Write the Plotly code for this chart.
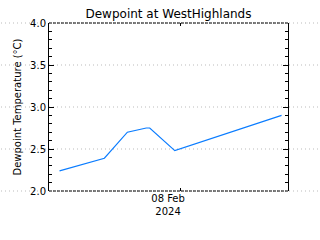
import plotly.graph_objects as go

# Data
times = ["2024-02-07 08:22", "2024-02-07 14:11", "2024-02-07 17:10",
         "2024-02-07 19:37", "2024-02-07 20:04", "2024-02-07 23:19",
         "2024-02-08 13:10"]
dewpoint = [2.24, 2.39, 2.70, 2.75, 2.75, 2.48, 2.90]

x_range = ["2024-02-07 07:00", "2024-02-08 14:00"]
y_min, y_max = 2.0, 4.0
y_ticks = [2.0, 2.5, 3.0, 3.5, 4.0]
x_tickvals = ["2024-02-08 00:00"]
x_ticktext = ["08 Feb<br>2024"]

title_text = "Dewpoint at WestHighlands"
y_title = "Dewpoint Temperature (°C)"

W, H = 320, 240
ML, MR, MT, MB = 49, 32, 23, 49
plot_w = W - ML - MR

fig = go.Figure()
fig.add_trace(go.Scatter(x=times, y=dewpoint, mode="lines",
                         line=dict(color="#0a7cff", width=1.2),
                         showlegend=False, hoverinfo="skip"))

shapes = []
# dotted grid lines extending over the full width
for v in y_ticks:
    yp = (v - y_min) / (y_max - y_min)
    shapes.append(dict(type="line", xref="paper", yref="paper",
                       x0=-(ML - 1) / plot_w, x1=1 + (MR - 2) / plot_w,
                       y0=yp, y1=yp, layer="below",
                       line=dict(color="#bbbbbb", width=1, dash="1px,3px")))
# dashed top and bottom frame lines
for yp in (0, 1):
    shapes.append(dict(type="line", xref="paper", yref="paper",
                       x0=0, x1=1, y0=yp, y1=yp,
                       line=dict(color="black", width=1, dash="3px,1px")))

font = "DejaVu Sans"
fig.update_layout(
    width=W, height=H,
    margin=dict(l=ML, r=MR, t=MT, b=MB, pad=0),
    paper_bgcolor="white", plot_bgcolor="white",
    font=dict(family=font, size=10, color="black"),
    title=dict(text=title_text, x=(ML + plot_w / 2) / W, xanchor="center",
               y=1 - 14 / H, yanchor="middle",
               font=dict(family=font, size=12, color="black")),
    shapes=shapes,
    xaxis=dict(range=x_range, type="date", showgrid=False, zeroline=False,
               showline=False, ticks="inside", ticklen=3, tickcolor="black",
               mirror="ticks", tickvals=x_tickvals, ticktext=x_ticktext,
               ticklabelshift=-12, tickfont=dict(size=10)),
    yaxis=dict(range=[y_min, y_max], showgrid=False, zeroline=False,
               showline=True, linecolor="black", linewidth=1, mirror="ticks",
               ticks="inside", ticklen=5, tickcolor="black",
               tickvals=y_ticks, tickformat=".1f",
               minor=dict(dtick=0.1, ticks="inside", ticklen=3,
                          tickcolor="black", showgrid=False),
               title=dict(text=y_title, standoff=6, font=dict(size=10)),
               tickfont=dict(size=10)),
)
fig.write_html("out.html")
